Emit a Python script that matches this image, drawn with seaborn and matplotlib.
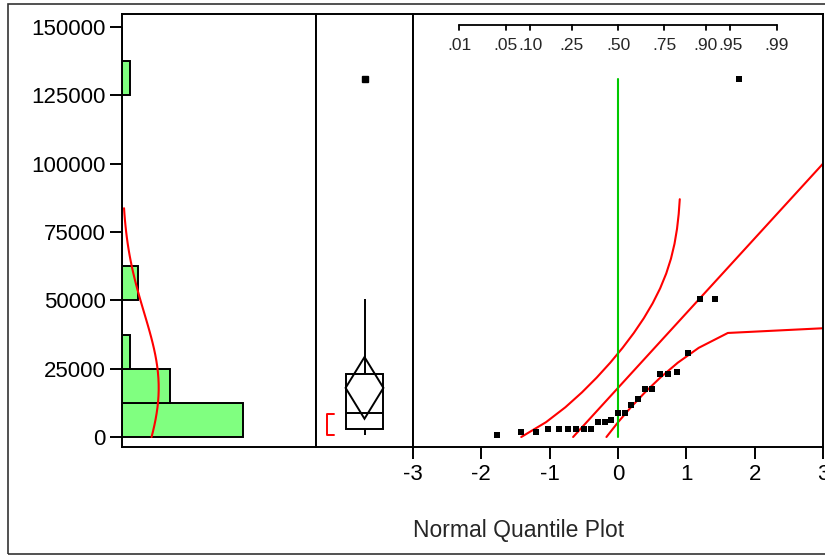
import numpy as np
import seaborn as sns
import matplotlib
matplotlib.use("Agg")
import matplotlib.pyplot as plt
from matplotlib.patches import Polygon, Rectangle
from matplotlib.transforms import blended_transform_factory
from statistics import NormalDist

# ---------------- data ----------------
values = [900, 1700, 1700, 3000, 3000, 3000, 3000, 3000, 3000, 5400, 5400,
          6200, 8700, 8700, 11600, 13800, 17600, 17600, 22900, 22900, 23700,
          30600, 50400, 50400, 130900]
bin_edges = list(range(0, 150001, 12500))
y_ticks = [0, 25000, 50000, 75000, 100000, 125000, 150000]
y_tick_labels = ["0", "25000", "50000", "75000", "100000", "125000", "150000"]
q_ticks = [-3, -2, -1, 0, 1, 2, 3]
prob_ticks = [0.01, 0.05, 0.10, 0.25, 0.50, 0.75, 0.90, 0.95, 0.99]
prob_labels = [".01", ".05", ".10", ".25", ".50", ".75", ".90", ".95", ".99"]
shortest_half = [700, 8400]
fit_range = [0, 87000]
density_range = [0, 83700]
T_CRIT = 2.064          # t(0.975, 24)
LILLIEFORS = 0.886      # 5% Lilliefors constant

# ---------------- statistics ----------------
v = np.sort(np.array(values, dtype=float))
n = len(v)
mean = v.mean()
sd = v.std(ddof=1)
nd = NormalDist()
q = np.array([nd.inv_cdf(i / (n + 1)) for i in range(1, n + 1)])
D = LILLIEFORS / np.sqrt(n)

# ---------------- style ----------------
sns.set_style("white")
plt.rcParams["font.family"] = ["Liberation Sans", "DejaVu Sans"]
FS = 16
LW = 1.4
RED = "#FF0000"
GREEN_FILL = "#80FF80"
GREEN_LINE = "#00C800"

W, H = 825, 556
fig = plt.figure(figsize=(W / 100, H / 100), dpi=100)


def rect(x0, y0, x1, y1):
    return [x0 / W, 1 - y1 / H, (x1 - x0) / W, (y1 - y0) / H]


axl = fig.add_axes(rect(122, 14, 316, 447))
axm = fig.add_axes(rect(316, 14, 413, 447))
axr = fig.add_axes(rect(413, 14, 823, 447))

px_per_unit = 410 / 150000.0
ylim = (-(447 - 437) / px_per_unit, (437 - 14) / px_per_unit)

for ax in (axl, axm, axr):
    ax.set_ylim(*ylim)
    for s in ax.spines.values():
        s.set_visible(True)
        s.set_color("black")
        s.set_linewidth(LW)

# ---------------- left: histogram + normal density ----------------
sns.histplot(y=values, bins=bin_edges, ax=axl, color=GREEN_FILL,
             edgecolor="black", linewidth=LW, alpha=1, stat="count")
dens_y = np.linspace(density_range[0], density_range[1], 40)
bw = bin_edges[1] - bin_edges[0]
dens_x = [n * bw * NormalDist(mean, sd).pdf(t) for t in dens_y]
axl.plot(dens_x, dens_y, color=RED, lw=1.5)
axl.set_xlim(0, 24.1)
axl.set_xticks([])
axl.set_yticks(y_ticks)
axl.set_yticklabels(y_tick_labels, fontsize=FS)
axl.tick_params(axis="y", direction="out", length=8.6, width=LW, pad=3,
                left=True, colors="black")
axl.set_xlabel("")
axl.set_ylabel("")

# ---------------- middle: box plot + means diamond ----------------
bw_box = 0.39
sns.boxplot(y=values, ax=axm, width=bw_box, color="white", linecolor="black",
            linewidth=LW, showcaps=False, whis=1.5, saturation=1,
            flierprops=dict(marker="s", markersize=4.5, markerfacecolor="black",
                            markeredgecolor="black"))
ci = T_CRIT * sd / np.sqrt(n)
diamond = Polygon([(-bw_box / 2, mean), (0, mean + ci), (bw_box / 2, mean),
                   (0, mean - ci)], closed=True, fill=False, ec="black", lw=LW,
                  zorder=5)
axm.add_patch(diamond)
bx0, bx1 = -0.39, -0.314
axm.plot([bx1, bx0, bx0, bx1],
         [shortest_half[1], shortest_half[1], shortest_half[0], shortest_half[0]],
         color=RED, lw=LW)
axm.set_xlim(-0.5, 0.5)
axm.set_ylim(*ylim)
axm.set_xticks([])
axm.set_yticks([])
axm.set_xlabel("")
axm.set_ylabel("")

# ---------------- right: normal quantile plot ----------------
axr.set_xlim(-3, 3)
grid = np.linspace(fit_range[0], fit_range[1], 17)
z = (grid - mean) / sd
cdf = np.array([nd.cdf(t) for t in z])
p_up = np.clip(cdf - D, 1e-9, 1 - 1e-9)
p_lo = np.clip(cdf + D, 1e-9, 1 - 1e-9)
axr.plot([nd.inv_cdf(p) for p in p_up], grid, color=RED, lw=1.5)
axr.plot([nd.inv_cdf(p) for p in p_lo], grid, color=RED, lw=1.5)
q_line = np.array([(fit_range[0] - mean) / sd, 3.0])
axr.plot(q_line, mean + sd * q_line, color=RED, lw=1.5)
axr.plot([0, 0], [0, v.max()], color=GREEN_LINE, lw=1.5)
sns.scatterplot(x=q, y=v, ax=axr, marker="s", color="black", s=20,
                linewidth=0, zorder=6)
axr.set_ylim(*ylim)
axr.set_xticks(q_ticks)
axr.set_xticklabels([str(t) for t in q_ticks], fontsize=FS)
axr.set_yticks([])
axr.tick_params(axis="x", direction="out", length=8.6, width=LW, pad=3.5,
                bottom=True, colors="black")
axr.set_xlabel("")
axr.set_ylabel("")

# probability scale drawn inside top of the quantile plot
tr = blended_transform_factory(axr.transData, axr.transAxes)
pq = [nd.inv_cdf(p) for p in prob_ticks]
y_line = (447 - 25) / 433
y_tick = (447 - 29.5) / 433
y_lab = (447 - 45) / 433
axr.plot([pq[0], pq[-1]], [y_line, y_line], color="black", lw=1.3,
         transform=tr, clip_on=False)
for xq, lab in zip(pq, prob_labels):
    axr.plot([xq, xq], [y_line, y_tick], color="black", lw=1.3, transform=tr,
             clip_on=False)
    axr.text(xq, y_lab, lab, transform=tr, ha="center", va="center",
             fontsize=12.5)

fig.text(413 / W, 1 - 530 / H, "Normal Quantile Plot", ha="left",
         va="center", fontsize=16.5)

# outer frame (right side runs off the image)
fig.add_artist(Rectangle((8 / W, 1 - 554 / H), (840 - 8) / W, 550 / H,
                         fill=False, ec="#333333", lw=1.2,
                         transform=fig.transFigure, clip_on=False))

fig.savefig("out.png", dpi=100)
